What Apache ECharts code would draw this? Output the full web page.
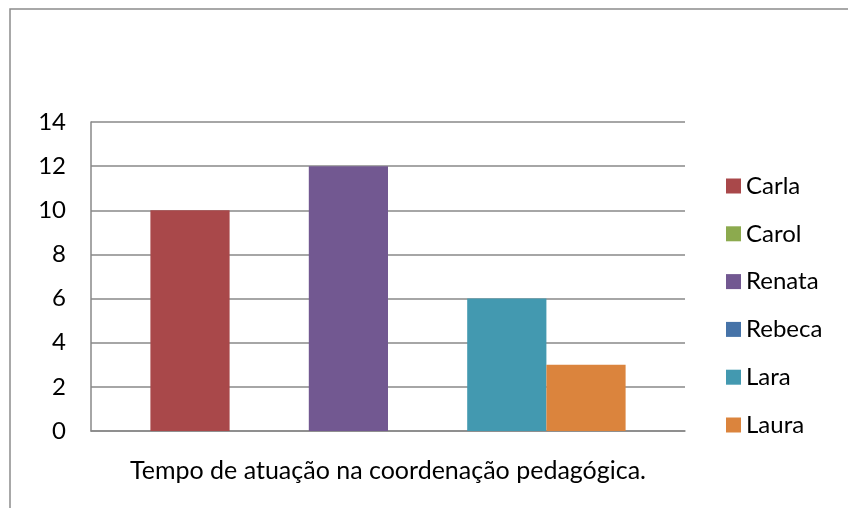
<!DOCTYPE html>
<html>
<head>
<meta charset="utf-8">
<script src="https://cdn.jsdelivr.net/npm/echarts@6/dist/echarts.min.js"></script>
<style>
  html, body { margin: 0; padding: 0; background: #fff; }
  #main { width: 848px; height: 508px; }
</style>
</head>
<body>
<div id="main"></div>
<script>
// data
var categories = ['Tempo de atuação na coordenação pedagógica.'];
var names = ['Carla', 'Carol', 'Renata', 'Rebeca', 'Lara', 'Laura'];
var values = [10, 0, 12, 0, 6, 3];
var colors = ['#A9484A', '#8CAA4E', '#725891', '#4673A8', '#4399B0', '#DB843D'];
var yTicks = [0, 2, 4, 6, 8, 10, 12, 14];

var font = 'Lato, "Open Sans", sans-serif';
var chartDom = document.getElementById('main');
var myChart = echarts.init(chartDom);

var series = names.map(function (n, i) {
  return {
    name: n,
    type: 'bar',
    data: [values[i]],
    barGap: 0,
    barCategoryGap: '20%',
    itemStyle: { color: colors[i] }
  };
});

var option = {
  animation: false,
  textStyle: { fontFamily: font },
  graphic: [{
    type: 'rect',
    shape: { x: 10, y: 9, width: 900, height: 600 },
    style: { fill: 'none', stroke: '#8c8c8c', lineWidth: 1.5 },
    silent: true
  }],
  grid: { left: 91, top: 122, width: 594, height: 309 },
  legend: {
    orient: 'vertical',
    left: 721,
    top: 169,
    itemWidth: 15,
    itemHeight: 15,
    itemGap: 23.8,
    icon: 'rect',
    textStyle: { fontSize: 24, lineHeight: 24, color: '#000', fontFamily: font },
    data: names
  },
  xAxis: {
    type: 'category',
    data: categories,
    axisLine: { lineStyle: { color: '#888', width: 1.5 } },
    axisTick: { show: false },
    axisLabel: { fontSize: 25, color: '#000', margin: 27 }
  },
  yAxis: {
    type: 'value',
    min: yTicks[0],
    max: yTicks[yTicks.length - 1],
    interval: 2,
    axisLine: { show: true, lineStyle: { color: '#888', width: 1.5 } },
    axisTick: { show: false },
    axisLabel: { fontSize: 24, color: '#000', margin: 25 },
    splitLine: { lineStyle: { color: '#888', width: 1.5 } }
  },
  series: series
};

option && myChart.setOption(option);
</script>
</body>
</html>
